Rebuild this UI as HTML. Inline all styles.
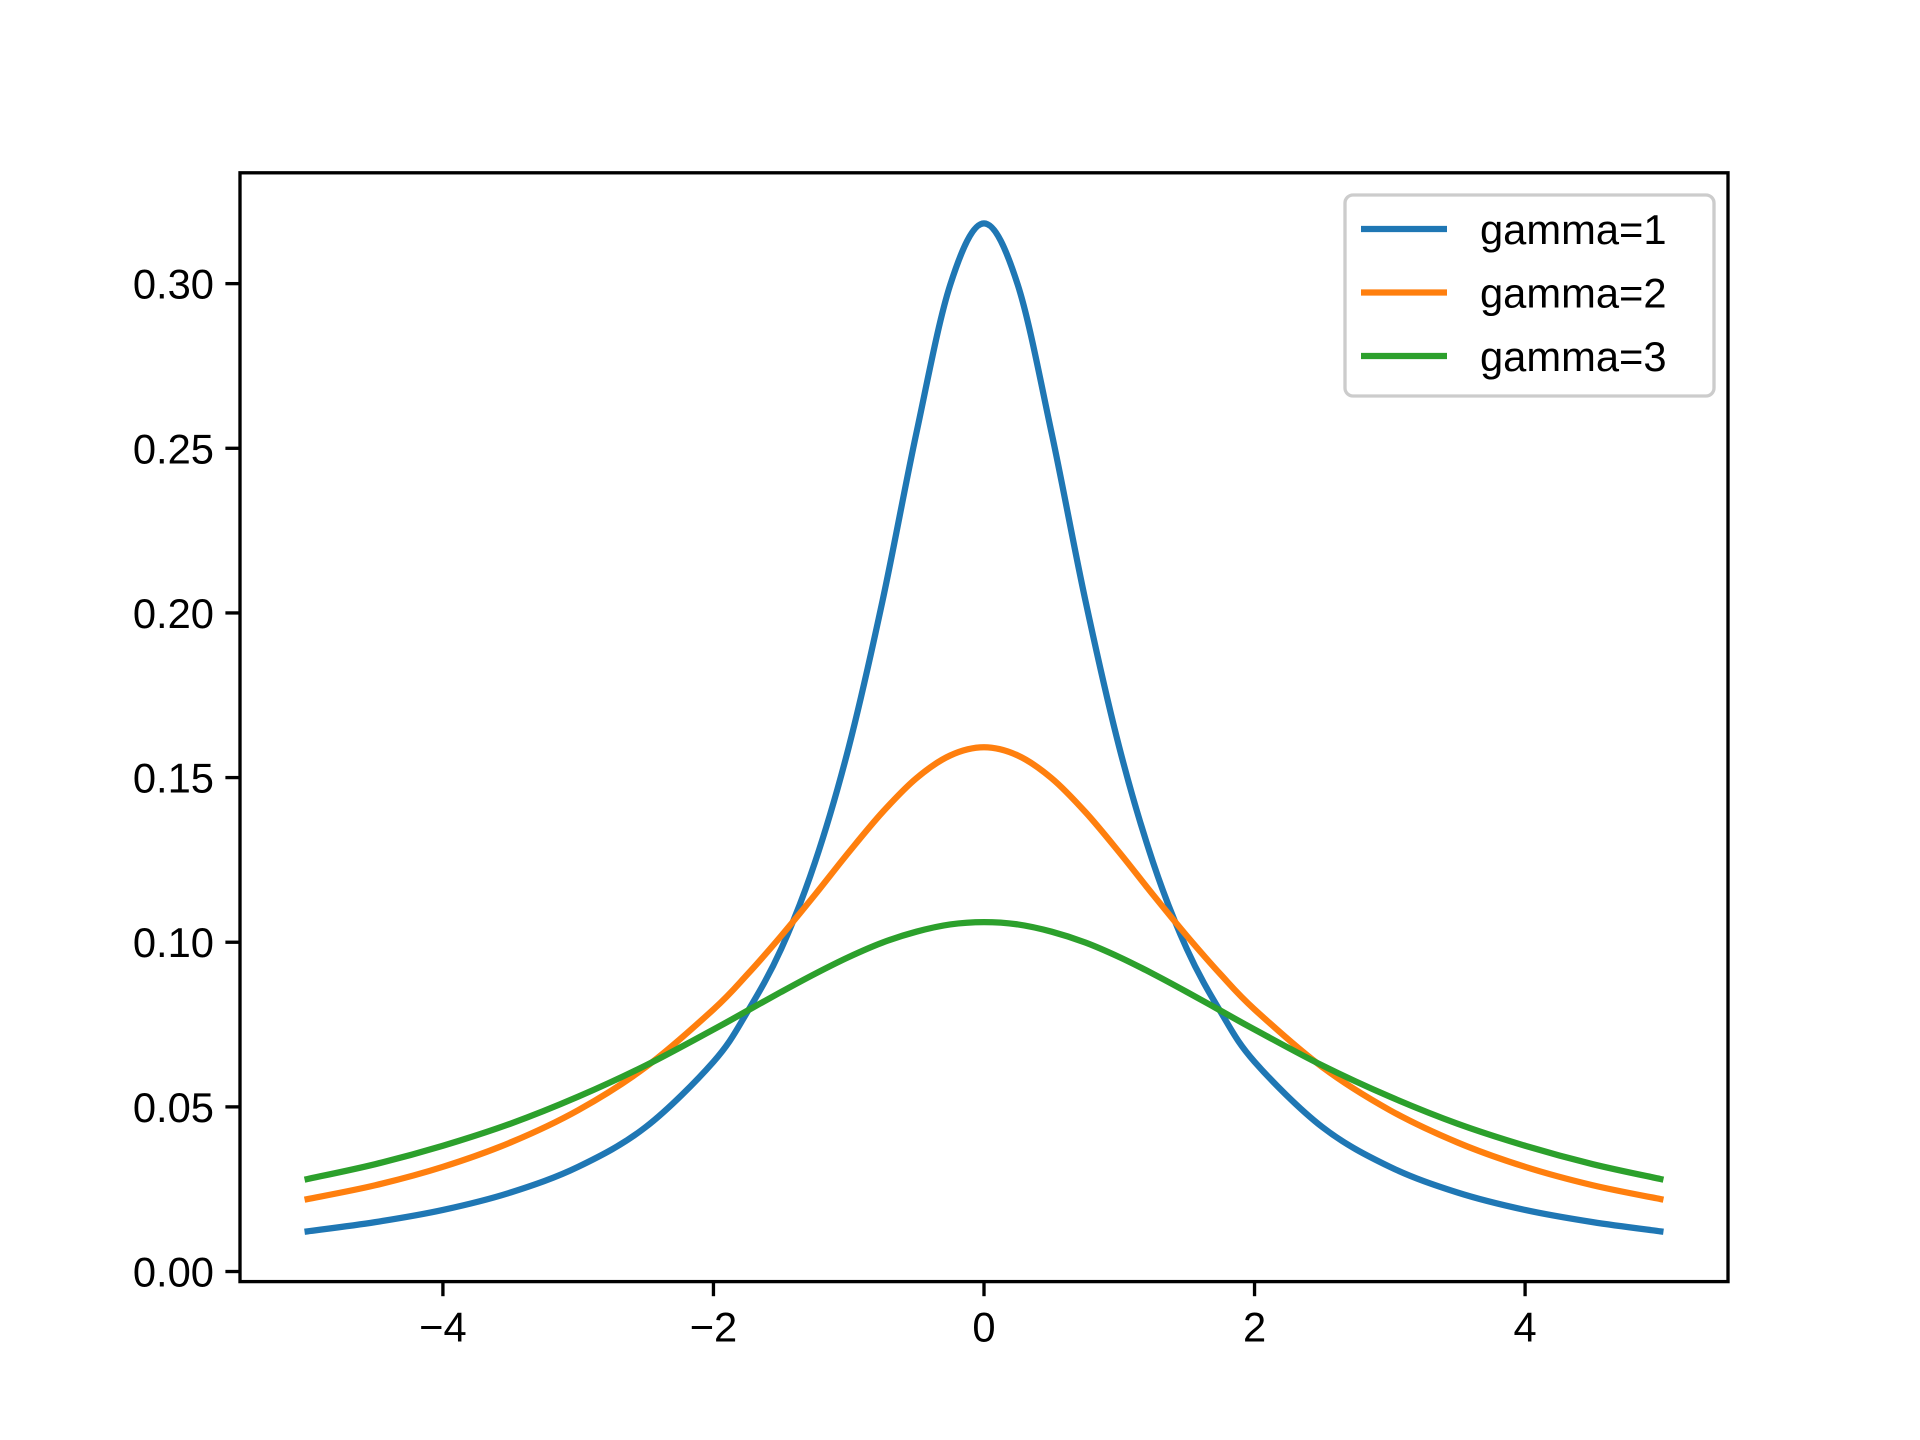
<!DOCTYPE html>
<html><head><meta charset="utf-8"><style>html,body{margin:0;padding:0;background:#fff}svg{display:block}</style></head>
<body>
<svg id="chart" width="1920" height="1440" viewBox="0 0 1920 1440" xmlns="http://www.w3.org/2000/svg" font-family="'Liberation Sans','DejaVu Sans',sans-serif">
<rect width="1920" height="1440" fill="#fff"/>
<g id="plot"></g>
</svg>
<script>
const xValues = [-5,-4.5,-4,-3.5,-3,-2.5,-2,-1.75,-1.5,-1.25,-1,-0.75,-0.5,-0.25,0,0.25,0.5,0.75,1,1.25,1.5,1.75,2,2.5,3,3.5,4,4.5,5];
const gamma1 = [.0122,.0150,.0187,.0240,.0318,.0439,.0637,.0788,.0979,.1242,.1592,.2037,.2546,.2996,.3183,.2996,.2546,.2037,.1592,.1242,.0979,.0788,.0637,.0439,.0318,.0240,.0187,.0150,.0122];
const gamma2 = [.0220,.0262,.0318,.0392,.0490,.0621,.0796,.0902,.1019,.1144,.1273,.1395,.1498,.1567,.1592,.1567,.1498,.1395,.1273,.1144,.1019,.0902,.0796,.0621,.0490,.0392,.0318,.0262,.0220];
const gamma3 = [.0281,.0326,.0382,.0449,.0531,.0626,.0735,.0792,.0849,.0904,.0955,.0999,.1032,.1054,.1061,.1054,.1032,.0999,.0955,.0904,.0849,.0792,.0735,.0626,.0531,.0449,.0382,.0326,.0281];
const seriesLabels = ["gamma=1","gamma=2","gamma=3"];
const xTicks = [-4,-2,0,2,4];
const xTickLabels = ["\u22124","\u22122","0","2","4"];
const yTicks = [0,0.05,0.10,0.15,0.20,0.25,0.30];
const yTickLabels = ["0.00","0.05","0.10","0.15","0.20","0.25","0.30"];

const L=240,R=1728,T=172.8,B=1281.6;
const xMin=-5.5,xMax=5.5,yMin=-0.00306,yMax=0.33366;
const sx=v=>L+(v-xMin)/(xMax-xMin)*(R-L);
const sy=v=>B-(v-yMin)/(yMax-yMin)*(B-T);
const g=document.getElementById('plot');
const NS='http://www.w3.org/2000/svg';
function mk(tag,attrs,parent){const e=document.createElementNS(NS,tag);for(const k in attrs)e.setAttribute(k,attrs[k]);(parent||g).appendChild(e);return e;}
function pathFor(ys){
  const p=xValues.map((x,i)=>[sx(x),sy(ys[i])]);
  let d=`M${p[0][0]},${p[0][1]}`;
  for(let i=0;i<p.length-1;i++){
    const p0=p[Math.max(0,i-1)],p1=p[i],p2=p[i+1],p3=p[Math.min(p.length-1,i+2)];
    const c1=[p1[0]+(p2[0]-p0[0])/6,p1[1]+(p2[1]-p0[1])/6];
    const c2=[p2[0]-(p3[0]-p1[0])/6,p2[1]-(p3[1]-p1[1])/6];
    d+=` C${c1[0]},${c1[1]} ${c2[0]},${c2[1]} ${p2[0]},${p2[1]}`;
  }
  return d;
}
const colors=["#1f77b4","#ff7f0e","#2ca02c"];
[gamma1,gamma2,gamma3].forEach((ys,i)=>{
  const el=mk('path',{d:pathFor(ys),fill:'none',stroke:colors[i],'stroke-width':6.25,'stroke-linejoin':'round','stroke-linecap':'square'});
  
  
});
const frame=mk('rect',{x:L,y:T,width:R-L,height:B-T,fill:'none',stroke:'#000','stroke-width':3.33});


xTicks.forEach((v,i)=>{
  const t=mk('line',{x1:sx(v),x2:sx(v),y1:B,y2:B+14.6,stroke:'#000','stroke-width':3.33});
  
  
  const lb=mk('text',{x:sx(v),y:B+60,'font-size':41.7,'text-anchor':'middle',fill:'#000'});
  lb.textContent=xTickLabels[i];
  
  
});
yTicks.forEach((v,i)=>{
  const t=mk('line',{x1:L-14.6,x2:L,y1:sy(v),y2:sy(v),stroke:'#000','stroke-width':3.33});
  
  
  const lb=mk('text',{x:L-26,y:sy(v)+15,'font-size':41.7,'text-anchor':'end',fill:'#000'});
  lb.textContent=yTickLabels[i];
  
  
});
const leg=mk('g',{});


mk('rect',{x:1345,y:195,width:369,height:201,rx:8,fill:'#fff','fill-opacity':0.8,stroke:'#ccc','stroke-width':3.33},leg);
seriesLabels.forEach((s,i)=>{
  const y=229+i*63.5;
  const ln=mk('line',{x1:1361,x2:1447,y1:y,y2:y,stroke:colors[i],'stroke-width':6.25},leg);
  
  
  const tx=mk('text',{x:1480,y:y+15,'font-size':41.7,fill:'#000'},leg);
  tx.textContent=s;
  
  
});
</script>
</body></html>
